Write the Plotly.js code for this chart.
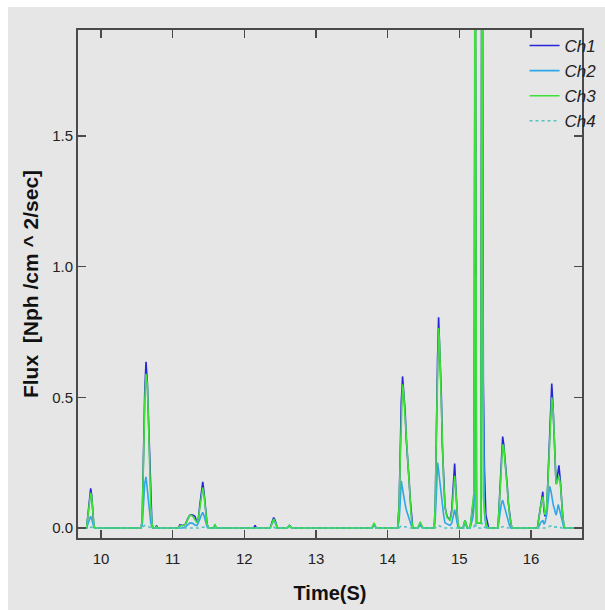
<!DOCTYPE html>
<html>
<head>
<meta charset="utf-8">
<script src="https://cdn.plot.ly/plotly-3.0.1.min.js"></script>
<style>
html,body{margin:0;padding:0;background:#ffffff;width:605px;height:610px;overflow:hidden;}
#chart{position:absolute;left:8px;top:7px;width:597px;height:603px;}
</style>
</head>
<body>
<div id="chart"></div>
<script>
// Time (s) sample points
const time = [
 9.68, 9.80, 9.81, 9.825, 9.84, 9.856, 9.87, 9.885, 9.90, 9.915,
 10.56, 10.575, 10.59, 10.61, 10.628, 10.647, 10.666, 10.68, 10.694, 10.71, 10.725,
 10.76, 10.775, 10.79,
 11.08, 11.10, 11.14, 11.18, 11.21, 11.24, 11.28, 11.31, 11.34, 11.36, 11.38, 11.40, 11.42, 11.44, 11.46, 11.48, 11.50,
 11.57, 11.59, 11.61,
 12.13, 12.15, 12.17,
 12.36, 12.39, 12.41, 12.43, 12.46,
 12.60, 12.63, 12.66,
 13.78, 13.81, 13.84,
 14.14, 14.16, 14.176, 14.19, 14.208, 14.222, 14.245, 14.26, 14.28, 14.30, 14.315, 14.33, 14.35,
 14.42, 14.455, 14.49,
 14.65, 14.665, 14.68, 14.697, 14.711, 14.725, 14.749, 14.763, 14.781, 14.80, 14.83,
 14.87, 14.895, 14.91, 14.925, 14.935, 14.95, 14.965, 14.98, 15.00,
 15.05, 15.08, 15.11,
 15.15, 15.17, 15.19, 15.205, 15.222, 15.24, 15.30, 15.317, 15.335, 15.35, 15.37, 15.39, 15.41,
 15.54, 15.55, 15.57, 15.585, 15.605, 15.62, 15.64, 15.655, 15.67, 15.685, 15.70, 15.72, 15.735,
 16.09, 16.10, 16.12, 16.13, 16.145, 16.165, 16.18, 16.195, 16.22, 16.24, 16.26, 16.28, 16.29, 16.31, 16.33, 16.35, 16.36, 16.38, 16.39, 16.41, 16.42, 16.44, 16.46, 16.48,
 16.712
];
const ch1 = [
 0, 0, 0.03, 0.07, 0.12, 0.152, 0.126, 0.057, 0.01, 0,
 0, 0.03, 0.31, 0.515, 0.636, 0.553, 0.388, 0.235, 0.094, 0.02, 0,
 0, 0.01, 0,
 0, 0.012, 0.01, 0.015, 0.035, 0.05, 0.05, 0.045, 0.02, 0.04, 0.09, 0.14, 0.177, 0.13, 0.06, 0.015, 0,
 0, 0.01, 0,
 0, 0.01, 0,
 0, 0.025, 0.04, 0.03, 0,
 0, 0.01, 0,
 0, 0.015, 0,
 0, 0.09, 0.29, 0.48, 0.58, 0.53, 0.44, 0.34, 0.27, 0.18, 0.11, 0.05, 0,
 0, 0.015, 0,
 0, 0.094, 0.40, 0.655, 0.806, 0.707, 0.509, 0.318, 0.196, 0.081, 0.043,
 0.03, 0.07, 0.13, 0.20, 0.247, 0.16, 0.06, 0.01, 0,
 0, 0.03, 0,
 0, 0.04, 0.08, 0.12, 2.4, 0.02, 0.02, 3.0, 0.566, 0.23, 0.05, 0.02, 0,
 0, 0.056, 0.17, 0.286, 0.35, 0.32, 0.26, 0.21, 0.158, 0.094, 0.056, 0.018, 0,
 0, 0.02, 0.056, 0.088, 0.11, 0.139, 0.07, 0.045, 0.07, 0.21, 0.35, 0.477, 0.553, 0.45, 0.273, 0.171, 0.18, 0.222, 0.24, 0.18, 0.12, 0.056, 0.005, 0,
 0
];
const ch2 = [
 0, 0, 0.01, 0.02, 0.035, 0.045, 0.035, 0.015, 0.003, 0,
 0, 0.01, 0.08, 0.17, 0.196, 0.14, 0.09, 0.05, 0.02, 0.005, 0,
 0, 0, 0,
 0, 0, 0, 0.005, 0.012, 0.02, 0.018, 0.012, 0.01, 0.02, 0.035, 0.05, 0.06, 0.045, 0.02, 0.005, 0,
 0, 0, 0,
 0, 0, 0,
 0, 0.02, 0.03, 0.02, 0,
 0, 0.008, 0,
 0, 0.01, 0,
 0, 0.03, 0.10, 0.18, 0.15, 0.12, 0.09, 0.07, 0.05, 0.035, 0.02, 0.01, 0,
 0, 0.01, 0,
 0, 0.04, 0.13, 0.25, 0.22, 0.18, 0.12, 0.08, 0.05, 0.02, 0.015,
 0.01, 0.02, 0.04, 0.06, 0.07, 0.05, 0.02, 0.005, 0,
 0, 0.02, 0,
 0, 0.02, 0.04, 0.08, 0.97, 0.02, 0.02, 0.96, 0.375, 0.06, 0.01, 0, 0,
 0, 0.02, 0.06, 0.09, 0.107, 0.09, 0.07, 0.05, 0.035, 0.02, 0.01, 0, 0,
 0, 0.005, 0.01, 0.02, 0.025, 0.03, 0.015, 0.02, 0.05, 0.10, 0.16, 0.14, 0.12, 0.09, 0.07, 0.05, 0.06, 0.09, 0.08, 0.06, 0.04, 0.02, 0, 0,
 0
];
const ch3 = [
 0, 0, 0.03, 0.06, 0.11, 0.135, 0.12, 0.06, 0.012, 0,
 0, 0.03, 0.28, 0.48, 0.59, 0.55, 0.37, 0.22, 0.09, 0.02, 0,
 0, 0.005, 0,
 0, 0.008, 0.01, 0.015, 0.03, 0.05, 0.045, 0.03, 0.02, 0.04, 0.08, 0.12, 0.155, 0.12, 0.06, 0.015, 0,
 0, 0.015, 0,
 0, 0, 0,
 0, 0.02, 0.035, 0.025, 0,
 0, 0.01, 0,
 0, 0.02, 0,
 0, 0.08, 0.27, 0.45, 0.55, 0.52, 0.42, 0.32, 0.25, 0.17, 0.10, 0.04, 0,
 0, 0.024, 0,
 0, 0.09, 0.37, 0.62, 0.765, 0.70, 0.49, 0.30, 0.18, 0.08, 0.04,
 0.03, 0.06, 0.11, 0.16, 0.20, 0.15, 0.07, 0.02, 0,
 0, 0.03, 0,
 0, 0.05, 0.10, 0.14, 3.0, 0.02, 0.02, 3.0, 0.12, 0.06, 0.02, 0.005, 0,
 0, 0.05, 0.15, 0.27, 0.32, 0.31, 0.25, 0.20, 0.15, 0.09, 0.05, 0.02, 0,
 0, 0.02, 0.05, 0.08, 0.10, 0.12, 0.08, 0.05, 0.08, 0.19, 0.33, 0.45, 0.50, 0.45, 0.27, 0.17, 0.17, 0.20, 0.20, 0.17, 0.12, 0.06, 0.01, 0,
 0
];
const ch4 = [
 0, 0, 0, 0, 0.003, 0.003, 0.003, 0, 0, 0,
 0, 0, 0.005, 0.01, 0.01, 0.008, 0.005, 0.003, 0, 0, 0,
 0, 0, 0,
 0, 0, 0, 0, 0, 0, 0, 0, 0, 0, 0.003, 0.003, 0.005, 0.003, 0, 0, 0,
 0, 0, 0,
 0, 0, 0,
 0, 0, 0.003, 0, 0,
 0, 0, 0,
 0, 0, 0,
 0, 0, 0.005, 0.008, 0.008, 0.005, 0.005, 0.003, 0.003, 0, 0, 0, 0,
 0, 0, 0,
 0, 0, 0.005, 0.01, 0.01, 0.008, 0.005, 0.003, 0, 0, 0,
 0, 0, 0, 0.003, 0.003, 0, 0, 0, 0,
 0, 0, 0,
 0, 0, 0, 0.005, 0.02, 0, 0, 0.02, 0.01, 0.003, 0, 0, 0,
 0, 0, 0.003, 0.005, 0.005, 0.005, 0.003, 0, 0, 0, 0, 0, 0,
 0, 0, 0, 0, 0, 0, 0, 0, 0.003, 0.005, 0.008, 0.008, 0.005, 0.005, 0.003, 0.003, 0.003, 0.005, 0.003, 0.003, 0, 0, 0, 0,
 0
];
const seriesNames = ['Ch1', 'Ch2', 'Ch3', 'Ch4'];
const seriesValues = [ch1, ch2, ch3, ch4];
const seriesColors = ['#2626d8', '#2ea6ea', '#3ee03a', '#52c4c0'];
const seriesDash = ['solid', 'solid', 'solid', 'dot'];
const yTickVals = [0, 0.5, 1.0, 1.5];
const yTickText = ['0.0', '0.5', '1.0', '1.5'];
const xTickVals = [10, 11, 12, 13, 14, 15, 16];
const xTickText = ['10', '11', '12', '13', '14', '15', '16'];

const traces = seriesNames.map((n, i) => ({
  type: 'scatter',
  mode: 'lines',
  name: n,
  x: time,
  y: seriesValues[i],
  line: {color: seriesColors[i], width: 1.6, dash: seriesDash[i]},
  hoverinfo: 'skip'
}));

const axisCommon = {
  showline: true,
  linecolor: '#4a4a4a',
  linewidth: 2,
  mirror: 'ticks',
  ticks: 'inside',
  ticklen: 8,
  tickwidth: 1.6,
  tickcolor: '#4a4a4a',
  showgrid: false,
  zeroline: false,
  tickfont: {family: '"Liberation Sans Narrow", "Liberation Sans", sans-serif', size: 15, color: '#222222'}
};

const layout = {
  width: 597,
  height: 603,
  paper_bgcolor: '#e6e6e6',
  plot_bgcolor: '#e6e6e6',
  margin: {l: 70, r: 23, t: 23, b: 72, autoexpand: false},
  showlegend: true,
  hovermode: false,
  legend: {
    x: 0.886, xanchor: 'left', y: 1.004, yanchor: 'top',
    bgcolor: 'rgba(0,0,0,0)',
    borderwidth: 0,
    font: {family: '"Liberation Sans Narrow", sans-serif', size: 17, color: '#222222', style: 'italic'},
    tracegroupgap: 0
  },
  xaxis: Object.assign({}, axisCommon, {
    range: [9.679, 16.712],
    tickvals: xTickVals,
    ticktext: xTickText,
    ticklabelstandoff: 6,
    title: {text: 'Time(S)', standoff: 20,
      font: {family: '"Liberation Sans", sans-serif', size: 20, color: '#111111', weight: 'bold'}}
  }),
  yaxis: Object.assign({}, axisCommon, {
    range: [-0.038, 1.905],
    tickvals: yTickVals,
    ticktext: yTickText,
    ticklabelstandoff: 0,
    title: {text: 'Flux  [Nph /cm ^ 2/sec]', standoff: 8,
      font: {family: '"Liberation Sans", sans-serif', size: 21, color: '#111111', weight: 'bold'}}
  })
};

Plotly.newPlot('chart', traces, layout, {displayModeBar: false, staticPlot: true});
</script>
</body>
</html>
